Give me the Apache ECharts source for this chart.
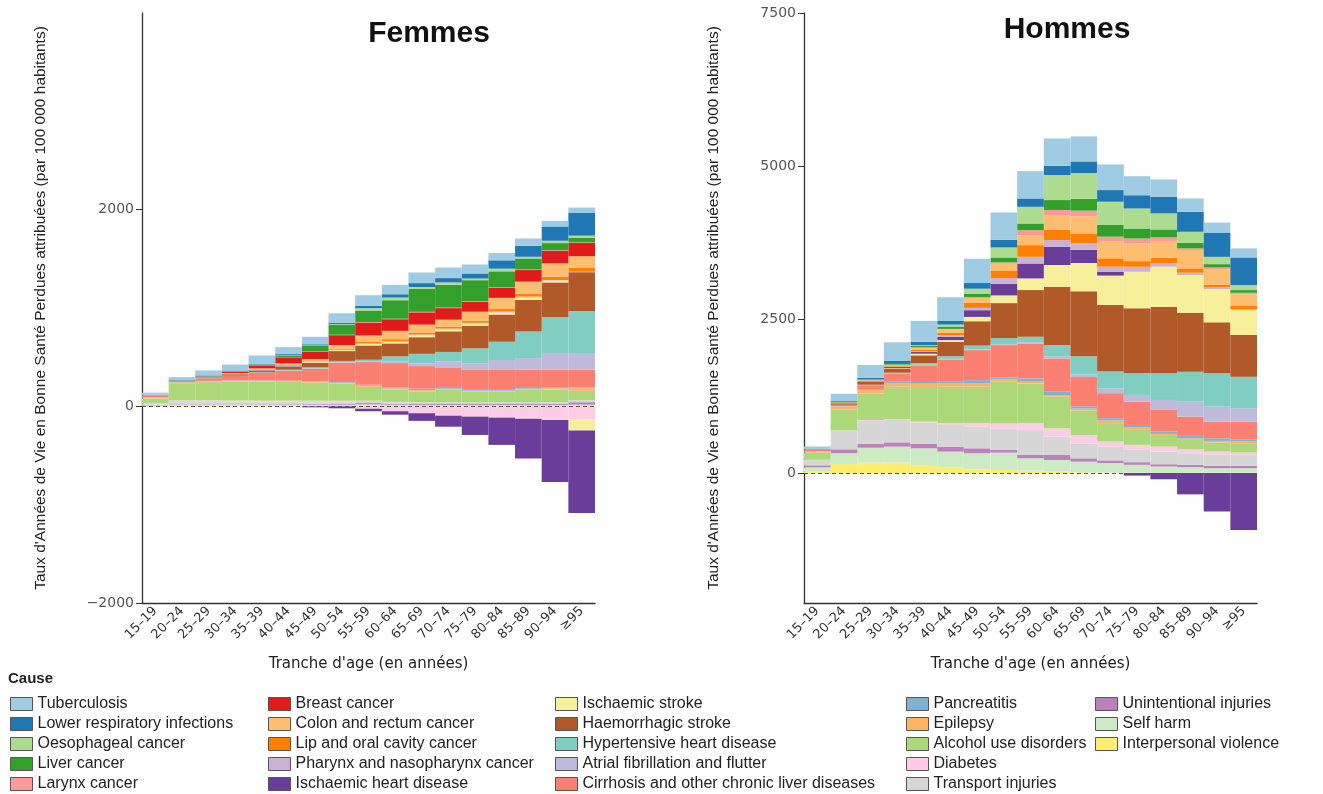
<!DOCTYPE html>
<html><head><meta charset="utf-8">
<script src="https://cdn.jsdelivr.net/npm/echarts@6/dist/echarts.min.js"></script>
<style>html,body{margin:0;padding:0;background:#fff}#c{width:1323px;height:794px}</style>
</head><body><div id="c"></div><script>
const ageGroups = ['15–19','20–24','25–29','30–34','35–39','40–44','45–49','50–54','55–59','60–64','65–69','70–74','75–79','80–84','85–89','90–94','≥95'];
const leftTicks = [-2000, 0, 2000];
const rightTicks = [0, 2500, 5000, 7500];

// Femmes
const F_IV  = [3,5,5,5,5,5,5,4,5,4,4,4,4,4,4,4,5];
const F_SH  = [8,15,15,15,14,13,12,12,15,12,10,10,10,10,10,10,12];
const F_UI  = [5,8,8,8,8,8,8,8,13,10,10,10,10,10,10,12,25];
const F_TR  = [12,25,25,22,20,20,18,18,25,20,18,15,15,15,15,15,20];
const F_DM  = [3,7,8,8,10,12,14,15,-25,-50,-70,-95,-105,-115,-125,-140,-135];
const F_AL  = [50,175,185,195,195,190,185,175,140,125,110,130,110,110,130,130,95];
const F_EP  = [10,10,10,8,8,8,8,8,12,12,12,10,10,10,10,13,27];
const F_PA  = [2,2,3,3,4,5,6,7,10,10,15,8,8,8,8,8,8];
const F_CI  = [15,8,25,45,75,100,125,195,230,247,230,203,203,203,186,182,182];
const F_AF  = [0,0,0,0,2,3,4,5,8,15,25,68,68,101,118,169,169];
const F_HH  = [0,0,2,3,5,8,12,15,16,53,100,95,152,186,270,365,426];
const F_HS  = [2,3,8,15,18,30,45,100,145,132,169,210,230,277,321,352,395];
const F_IS  = [0,0,1,2,3,4,6,10,15,15,18,18,20,20,25,20,-110];
const F_IHD = [0,0,2,3,5,8,-10,-20,-25,-35,-78,-112,-186,-277,-405,-629,-840];
const F_PH  = [0,0,0,1,2,2,3,4,8,10,10,10,10,10,10,5,5];
const F_LO  = [0,0,0,1,2,3,5,8,15,18,20,20,22,25,25,34,40];
const F_CO  = [2,2,3,5,10,18,25,40,63,85,80,70,90,114,126,135,118];
const F_BR  = [0,0,3,10,28,55,75,100,132,118,125,118,101,101,118,128,135];
const F_LA  = [0,0,0,1,1,2,3,4,5,5,5,5,5,5,5,5,5];
const F_LI  = [2,2,3,5,8,22,55,100,117,188,232,232,215,164,113,73,45];
const F_OE  = [0,0,0,1,2,3,5,8,24,27,20,24,17,27,17,24,24];
const F_LRI = [3,5,8,8,8,12,12,15,24,34,40,44,51,85,112,145,230];
const F_TB  = [22,30,51,61,84,71,76,95,108,95,108,108,91,74,74,57,55];

// Hommes
const M_IV  = [20,147,168,168,130,87,60,49,38,22,11,5,3,2,2,2,2];
const M_SH  = [72,174,244,261,272,261,261,282,201,190,174,157,130,103,92,76,76];
const M_UI  = [33,65,60,71,71,81,81,43,54,81,54,43,43,38,38,38,38];
const M_TR  = [87,300,375,364,348,353,353,353,407,299,239,228,201,206,190,179,179];
const M_DM  = [3,5,16,16,16,27,54,81,109,136,136,81,81,81,65,54,38];
const M_AL  = [120,340,434,527,565,597,597,679,652,516,407,299,244,174,152,147,152];
const M_EP  = [15,50,54,54,54,54,54,38,27,27,27,43,38,33,27,27,27];
const M_PA  = [3,5,16,27,27,27,54,33,54,54,38,38,43,38,38,43,38];
const M_CI  = [25,27,65,136,272,364,489,527,570,543,478,407,380,353,315,272,288];
const M_AF  = [0,0,2,3,8,10,10,15,20,30,40,81,109,163,244,244,217];
const M_HH  = [0,0,5,8,30,44,65,100,90,190,299,272,353,434,489,543,516];
const M_HS  = [3,20,50,70,125,234,396,570,760,950,1059,1086,1059,1086,961,831,679];
const M_IS  = [0,3,5,8,27,27,71,125,190,353,462,478,597,652,614,543,407];
const M_IHD = [0,5,8,15,27,54,109,190,244,299,217,65,-43,-103,-348,-630,-929];
const M_PH  = [0,2,3,5,10,27,38,92,109,109,109,81,81,54,38,27,16];
const M_LO  = [2,3,5,10,27,38,81,125,190,163,147,136,92,92,71,43,49];
const M_CO  = [2,5,5,12,33,54,81,109,163,244,288,272,288,261,299,255,195];
const M_BR  = [0,0,0,0,0,0,0,0,0,0,0,0,0,0,0,0,0];
const M_LA  = [0,0,2,3,5,10,16,22,81,81,92,81,81,71,27,27,22];
const M_LI  = [2,5,8,15,27,38,54,81,109,163,195,190,163,130,92,54,43];
const M_OE  = [0,0,2,5,10,33,81,163,272,407,418,380,326,261,179,119,81];
const M_LRI = [5,15,25,54,54,65,92,125,136,152,190,190,217,272,326,396,451];
const M_TB  = [40,120,210,299,342,380,396,445,445,445,407,418,310,282,217,163,147];

// causes, bottom of stack first: [name, colour, femmes, hommes]
const causes = [
  ['Interpersonal violence', '#ffed6f', F_IV, M_IV],
  ['Self harm', '#ccebc5', F_SH, M_SH],
  ['Unintentional injuries', '#bc80bd', F_UI, M_UI],
  ['Transport injuries', '#d6d6d6', F_TR, M_TR],
  ['Diabetes', '#fccde5', F_DM, M_DM],
  ['Alcohol use disorders', '#acd87a', F_AL, M_AL],
  ['Epilepsy', '#fdb462', F_EP, M_EP],
  ['Pancreatitis', '#80b1d3', F_PA, M_PA],
  ['Cirrhosis and other chronic liver diseases', '#fb8072', F_CI, M_CI],
  ['Atrial fibrillation and flutter', '#bebada', F_AF, M_AF],
  ['Hypertensive heart disease', '#80cdc1', F_HH, M_HH],
  ['Haemorrhagic stroke', '#b15928', F_HS, M_HS],
  ['Ischaemic stroke', '#f6f09b', F_IS, M_IS],
  ['Ischaemic heart disease', '#6a3d9a', F_IHD, M_IHD],
  ['Pharynx and nasopharynx cancer', '#cab2d6', F_PH, M_PH],
  ['Lip and oral cavity cancer', '#ff7f00', F_LO, M_LO],
  ['Colon and rectum cancer', '#fdbf6f', F_CO, M_CO],
  ['Breast cancer', '#e31a1c', F_BR, M_BR],
  ['Larynx cancer', '#fb9a99', F_LA, M_LA],
  ['Liver cancer', '#33a02c', F_LI, M_LI],
  ['Oesophageal cancer', '#addc91', F_OE, M_OE],
  ['Lower respiratory infections', '#1f78b4', F_LRI, M_LRI],
  ['Tuberculosis', '#9fcbe3', F_TB, M_TB]
];

const legendCols = [
  ['Tuberculosis','Lower respiratory infections','Oesophageal cancer','Liver cancer','Larynx cancer'],
  ['Breast cancer','Colon and rectum cancer','Lip and oral cavity cancer','Pharynx and nasopharynx cancer','Ischaemic heart disease'],
  ['Ischaemic stroke','Haemorrhagic stroke','Hypertensive heart disease','Atrial fibrillation and flutter','Cirrhosis and other chronic liver diseases'],
  ['Pancreatitis','Epilepsy','Alcohol use disorders','Diabetes','Transport injuries'],
  ['Unintentional injuries','Self harm','Interpersonal violence']
];
const legendLeft = [10, 268, 555, 906, 1095];

const yName = "Taux d'Années de Vie en Bonne Santé Perdues attribuées (par 100 000 habitants)";
const fmt = v => v < 0 ? '−' + Math.abs(v) : String(v);
const axisCol = '#333';

function xAx(gi) {
  return {
    type: 'category', gridIndex: gi, data: ageGroups,
    axisLine: { onZero: false, lineStyle: { color: axisCol, width: 1.3 } },
    axisTick: { length: 6, lineStyle: { color: axisCol } },
    axisLabel: { rotate: 45, fontFamily: 'DejaVu Sans', fontSize: 13, color: '#333', margin: 6, interval: 0 },
    name: "Tranche d'age (en années)", nameLocation: 'middle', nameGap: 54,
    nameTextStyle: { fontFamily: 'DejaVu Sans', fontSize: 15, color: '#222' }
  };
}
function yAx(gi, min, max, ticks, gap) {
  return {
    type: 'value', gridIndex: gi, min: min, max: max,
    splitLine: { show: false },
    axisLine: { show: true, lineStyle: { color: axisCol, width: 1.3 } },
    axisTick: { show: true, length: 6, customValues: ticks, lineStyle: { color: axisCol } },
    axisLabel: { customValues: ticks, formatter: fmt, fontFamily: 'DejaVu Sans', fontSize: 14, color: '#555', margin: 8 },
    name: yName, nameLocation: 'middle', nameGap: gap, nameRotate: 90,
    nameTextStyle: { fontFamily: 'Liberation Sans', fontSize: 15.5, color: '#222' }
  };
}

const series = [];
causes.forEach((c, i) => {
  [0, 1].forEach(g => {
    const s = {
      name: c[0], type: 'bar', xAxisIndex: g, yAxisIndex: g,
      stack: g === 0 ? 'F' : 'M', barCategoryGap: '0%',
      itemStyle: { color: c[1] }, data: g === 0 ? c[2] : c[3],
      emphasis: { disabled: true }, animation: false
    };
    if (i === 0) {
      s.markLine = {
        silent: true, symbol: 'none', z: 50, animation: false,
        label: { show: false },
        lineStyle: { type: [4, 3], color: '#555', width: 1.2 },
        data: [{ yAxis: 0 }]
      };
    }
    series.push(s);
  });
});

const option = {
  backgroundColor: '#fff',
  animation: false,
  title: [
    { text: 'Femmes', left: 424, top: 14, textAlign: 'center',
      textStyle: { fontFamily: 'Liberation Sans', fontWeight: 'bold', fontSize: 30, color: '#111' } },
    { text: 'Hommes', left: 1062, top: 10, textAlign: 'center',
      textStyle: { fontFamily: 'Liberation Sans', fontWeight: 'bold', fontSize: 30, color: '#111' } },
    { text: 'Cause', left: 3, top: 666,
      textStyle: { fontFamily: 'Liberation Sans', fontWeight: 'bold', fontSize: 15, color: '#222' } }
  ],
  grid: [
    { left: 142, top: 13, width: 453, height: 590 },
    { left: 804, top: 13, width: 453, height: 590 }
  ],
  xAxis: [xAx(0), xAx(1)],
  yAxis: [yAx(0, -2000, 4000, leftTicks, 93), yAx(1, -2120, 7500, rightTicks, 82)],
  legend: legendCols.map((col, k) => ({
    data: col, orient: 'vertical', left: legendLeft[k], top: 696,
    height: 110, padding: 0,
    itemWidth: 22, itemHeight: 13, itemGap: 4, selectedMode: false,
    icon: 'rect',
    itemStyle: { borderColor: '#555', borderWidth: 1 },
    textStyle: { fontFamily: 'Liberation Sans', fontSize: 16, lineHeight: 16, color: '#222' }
  })),
  series: series
};
const chart = echarts.init(document.getElementById('c'));
chart.setOption(option);
</script></body></html>
